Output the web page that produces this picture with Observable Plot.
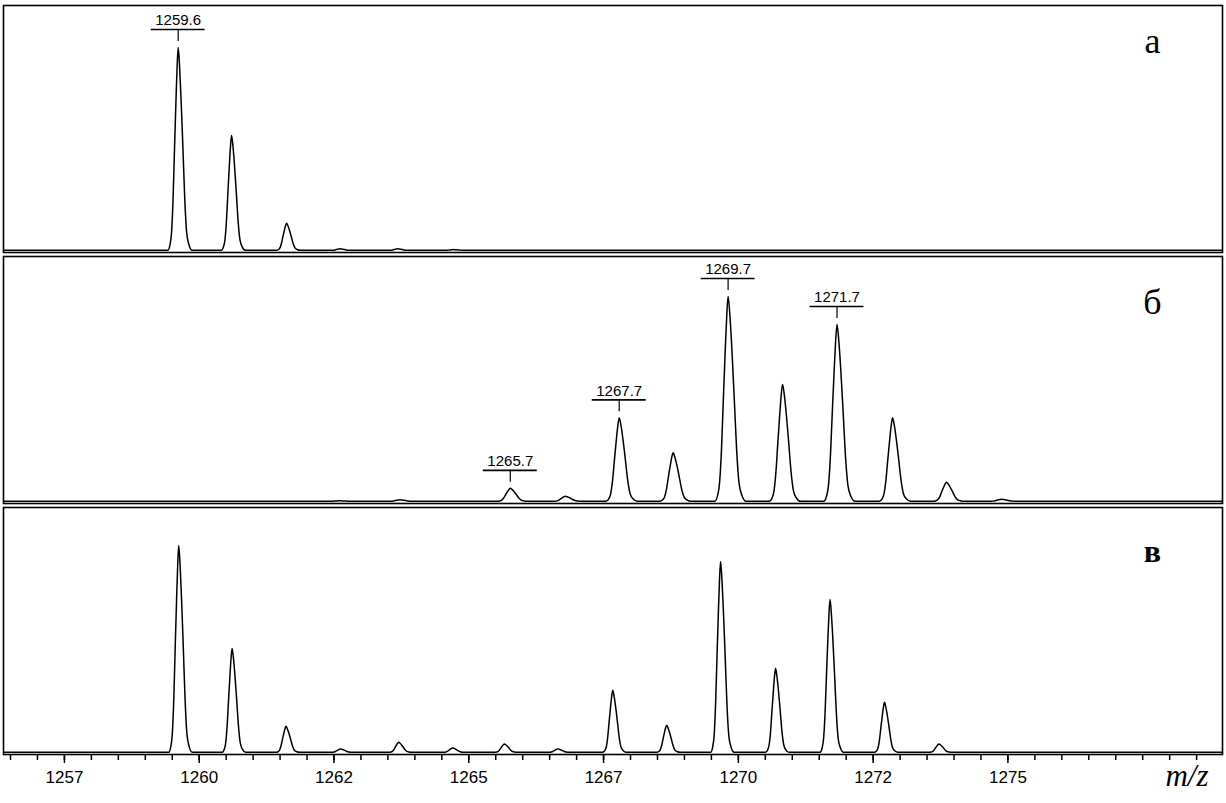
<!DOCTYPE html>
<html>
<head>
<meta charset="utf-8">
<script src="https://cdn.jsdelivr.net/npm/d3@7"></script>
<script src="https://cdn.jsdelivr.net/npm/@observablehq/plot@0.6"></script>
<style>
  html, body { margin: 0; padding: 0; background: #fff; }
  #chart { width: 1226px; height: 803px; overflow: hidden; }
</style>
</head>
<body>
<div id="chart"></div>
<script>
// ---- data ----
const panels = ["а", "б", "в"];

// panel а : peak centroids (m/z) and intensities (a.u.)
const mzA  = [1259.61, 1260.60, 1261.62, 1262.61, 1263.68, 1264.72];
const intA = [203, 115, 27, 1.5, 1.5, 0.7];

// panel б
const mzB  = [1262.60, 1263.72, 1265.77, 1266.79, 1267.79, 1268.79, 1269.81, 1270.82, 1271.83, 1272.86, 1273.86, 1274.88];
const intB = [0.5, 1.5, 13, 5, 83.5, 48.5, 205, 117, 177, 83.5, 19, 2];

// panel в
const mzC  = [1259.62, 1260.61, 1261.61, 1262.62, 1263.70, 1264.70, 1265.66, 1266.65, 1267.67, 1268.67, 1269.67, 1270.69, 1271.70, 1272.71, 1273.72];
const intC = [207, 104, 26, 3.4, 10, 4.4, 8.4, 3.4, 62, 27, 191, 84, 153, 50, 8.4];

// peak annotations
const annPanel = ["а", "б", "б", "б", "б"];
const annMz    = [1259.61, 1265.77, 1267.79, 1269.81, 1271.83];
const annText  = ["1259.6", "1265.7", "1267.7", "1269.7", "1271.7"];

// axis ticks
const majorTicks  = [1257.5, 1260, 1262.5, 1265, 1267.5, 1270, 1272.5, 1275];
const majorLabels = ["1257", "1260", "1262", "1265", "1267", "1270", "1272", "1275"];
const minorTicks  = d3.range(1256.5, 1279, 0.5);

// ---- peak profile (rendering style: offsets in widths, relative height) ----
const shapeOff = [-2.8, -2.2, -1.8, -1.4, -1.0, -0.6, -0.3, 0, 0.4, 0.8, 1.3, 1.8, 2.3, 2.9, 3.8];
const shapeRel = [0, 0.03, 0.09, 0.25, 0.5, 0.74, 0.9, 1, 0.9, 0.74, 0.5, 0.25, 0.09, 0.03, 0];
const widths = {"а": 0.068, "б": 0.088, "в": 0.066};

const xDomain = [1256.37, 1278.98];
const series = {"а": [mzA, intA], "б": [mzB, intB], "в": [mzC, intC]};

const points = [];
for (const p of panels) {
  const [mz, it] = series[p];
  const w = widths[p];
  points.push({panel: p, mz: xDomain[0], v: 0});
  mz.forEach((c, i) => {
    shapeOff.forEach((o, k) => points.push({panel: p, mz: c + o * w, v: it[i] * shapeRel[k]}));
  });
  points.push({panel: p, mz: xDomain[1], v: 0});
}

const ann = annMz.map((m, i) => {
  const [mz, it] = series[annPanel[i]];
  const j = mz.indexOf(m);
  return {panel: annPanel[i], mz: m, h: it[j], text: annText[i]};
});

const labelMap = new Map(majorTicks.map((t, i) => [t, majorLabels[i]]));

const letterDy = {"а": 47, "б": 57, "в": 54};
const letterWeight = {"а": "normal", "б": "normal", "в": "bold"};
const letterSize = {"а": 36, "б": 36, "в": 32};

const marks = [
  Plot.frame({stroke: "black", strokeWidth: 1.6}),
  Plot.line(points, {x: "mz", y: "v", fy: "panel", z: "panel", stroke: "black", strokeWidth: 1.5, curve: "monotone-x"}),
  // annotation underline
  Plot.ruleY(ann, {x1: d => d.mz - 0.5, x2: d => d.mz + 0.5, y: d => d.h + 18, fy: "panel", stroke: "black", strokeWidth: 1.6}),
  // annotation tick
  Plot.ruleX(ann, {x: "mz", y1: d => d.h + 6, y2: d => d.h + 18, fy: "panel", stroke: "black", strokeWidth: 1.2}),
  Plot.text(ann, {x: "mz", y: d => d.h + 18, text: "text", fy: "panel", dy: -4, lineAnchor: "bottom",
    fontSize: 15, fontFamily: "Liberation Sans, Arial, sans-serif", fill: "black", ariaLabel: "peak-labels"}),
  Plot.axisX({ticks: minorTicks, tickSize: 6, tickFormat: () => "", label: null, strokeWidth: 1.5}),
  Plot.axisX({ticks: majorTicks, tickSize: 9, tickPadding: 7, tickFormat: d => labelMap.get(d), label: null, strokeWidth: 1.5,
    fontSize: 17, ariaLabel: "major-axis"}),
  Plot.text(["m/z"], {fy: ["в"], text: d => d, frameAnchor: "bottom-right", dx: -14, dy: 31, textAnchor: "end",
    lineAnchor: "bottom", fontFamily: "Liberation Serif, Times New Roman, serif", fontStyle: "italic", fontSize: 31, fill: "black"})
];
for (const p of panels) {
  marks.push(Plot.text([p], {fy: [p], text: d => d, frameAnchor: "top-right", dx: -70, dy: letterDy[p],
    textAnchor: "middle", lineAnchor: "bottom", fontFamily: "Liberation Serif, Times New Roman, serif",
    fontSize: letterSize[p], fontWeight: letterWeight[p], fill: "black"}));
}

const chart = Plot.plot({
  width: 1226,
  height: 803,
  marginLeft: 3,
  marginRight: 4,
  marginTop: 4,
  marginBottom: 48,
  style: {fontFamily: "Liberation Sans, Arial, sans-serif", fontSize: "17px", background: "white", color: "black"},
  x: {domain: xDomain, axis: null, label: null},
  y: {domain: [-2.2, 245], axis: null},
  fy: {domain: panels, axis: null, paddingInner: 0.014, paddingOuter: 0},
  marks
});
d3.select(chart).selectAll('g[aria-label="peak-labels"] text').attr("letter-spacing", "1.5px");
d3.select(chart).selectAll('g[aria-label="major-axis"] text').attr("letter-spacing", "0.3px");
document.getElementById("chart").appendChild(chart);
</script>
</body>
</html>
